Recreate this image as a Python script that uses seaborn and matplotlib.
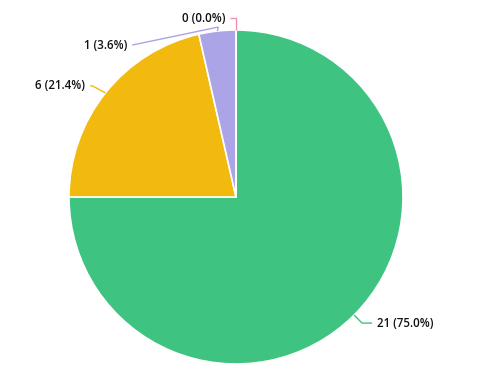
import numpy as np
import matplotlib
matplotlib.use("Agg")
import matplotlib.pyplot as plt
import seaborn as sns

sns.set_theme(style="white")
plt.rcParams['font.family'] = ['Open Sans', 'DejaVu Sans']

values = [21, 6, 1, 0]
colors = ["#3fc380", "#f2b90f", "#aba4e6", "#f38fb1"]
labels = [f"{v} ({v / sum(values) * 100:.1f}%)" for v in values]

W, H = 500, 386
fig = plt.figure(figsize=(W / 100, H / 100), dpi=100)
ax = fig.add_axes([0, 0, 1, 1])

cx, cy, R = 236, H - 197, 167
wedges, _ = ax.pie(values, colors=colors, startangle=90, counterclock=False,
                   center=(cx, cy), radius=R,
                   wedgeprops=dict(edgecolor="white", linewidth=1.2))
ax.set_xlim(0, W)
ax.set_ylim(0, H)
ax.set_aspect("equal")
ax.axis("off")

# label layout: (elbow offset dx,dy from edge point, end point dx, text ha)
layout = [
    dict(elbow=(8, -8), end=(18, -8), ha="left"),
    dict(elbow=(-13, 7), end=(-15, 7), ha="right"),
    dict(elbow=(1, 4), end=(-85, -14), ha="right"),
    dict(elbow=(0, 12), end=(-6, 12), ha="right"),
]

for w, lab, col, lay in zip(wedges, labels, colors, layout):
    ang = np.deg2rad((w.theta1 + w.theta2) / 2)
    ex, ey = cx + R * np.cos(ang), cy + R * np.sin(ang)
    bx, by = ex + lay["elbow"][0], ey + lay["elbow"][1]
    tx, ty = ex + lay["end"][0], ey + lay["end"][1]
    ax.plot([ex, bx, tx], [ey, by, ty], color=col, lw=1, solid_capstyle="butt")
    off = 5 if lay["ha"] == "left" else -5
    ax.text(tx + off, ty, lab, ha=lay["ha"], va="center", fontsize=8.3,
            color="#111111", fontweight="semibold")

fig.savefig("out.png", dpi=100)
